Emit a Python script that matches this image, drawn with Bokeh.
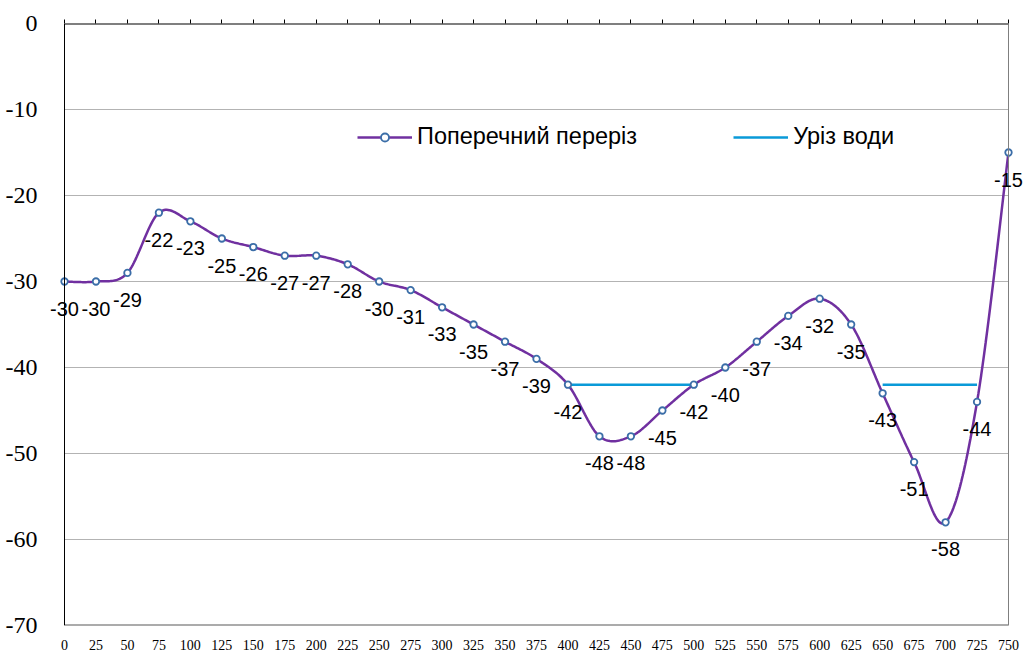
import numpy as np
from bokeh.plotting import figure
from bokeh.models import (ColumnDataSource, FixedTicker, LinearAxis, Legend, LegendItem,
                          Label, Range1d, Span)
from bokeh.embed import file_html
from bokeh.resources import INLINE

# ---- data ----
distance = [0, 25, 50, 75, 100, 125, 150, 175, 200, 225, 250, 275, 300, 325, 350, 375,
            400, 425, 450, 475, 500, 525, 550, 575, 600, 625, 650, 675, 700, 725, 750]
depth = [-30, -30, -29, -22, -23, -25, -26, -27, -27, -28, -30, -31, -33, -35, -37, -39,
         -42, -48, -48, -45, -42, -40, -37, -34, -32, -35, -43, -51, -58, -44, -15]
nan = float("nan")
water = [nan] * 16 + [-42] * 5 + [nan] * 5 + [-42] * 4 + [nan]
y_ticks = [0, -10, -20, -30, -40, -50, -60, -70]
series_names = ["Поперечний переріз", "Уріз води"]

# ---- smoothed curve (Catmull-Rom / Excel-like smoothing) ----
def smooth(xs, ys, n=24):
    xs = np.asarray(xs, float); ys = np.asarray(ys, float)
    px = np.concatenate([[xs[0]], xs, [xs[-1]]])
    py = np.concatenate([[ys[0]], ys, [ys[-1]]])
    out_x, out_y = [], []
    t = np.linspace(0, 1, n, endpoint=False)
    for i in range(1, len(px) - 2):
        p0x, p1x, p2x, p3x = px[i-1], px[i], px[i+1], px[i+2]
        p0y, p1y, p2y, p3y = py[i-1], py[i], py[i+1], py[i+2]
        c1x = p1x + (p2x - p0x) / 6; c1y = p1y + (p2y - p0y) / 6
        c2x = p2x - (p3x - p1x) / 6; c2y = p2y - (p3y - p1y) / 6
        b0 = (1 - t) ** 3; b1 = 3 * (1 - t) ** 2 * t; b2 = 3 * (1 - t) * t ** 2; b3 = t ** 3
        out_x.extend(b0 * p1x + b1 * c1x + b2 * c2x + b3 * p2x)
        out_y.extend(b0 * p1y + b1 * c1y + b2 * c2y + b3 * p2y)
    out_x.append(xs[-1]); out_y.append(ys[-1])
    return out_x, out_y

sx, sy = smooth(distance, depth)

# plot-area geometry: data area is 944 px wide; frame padded so edge labels are not clipped
data_px = 944
pad_l, pad_r = 20, 16
k = data_px / (distance[-1] - distance[0])
x_start = distance[0] - pad_l / k
x_end = distance[-1] + pad_r / k

p = figure(frame_width=data_px + pad_l + pad_r, frame_height=602, width=1026, height=657,
           x_range=Range1d(x_start, x_end), y_range=Range1d(y_ticks[-1], y_ticks[0]),
           output_backend="svg", toolbar_location=None,
           min_border_left=44, min_border_right=2, min_border_top=23, min_border_bottom=32,
           x_axis_location="below")
p.background_fill_color = "white"
p.border_fill_color = "white"
p.outline_line_color = None

# axes
xa = p.xaxis[0]
xa.ticker = FixedTicker(ticks=distance)
xa.major_label_overrides = {v: str(v) for v in distance}
xa.axis_line_color = None
xa.major_tick_line_color = None
xa.minor_tick_line_color = None
xa.major_label_text_font = "Liberation Serif"
xa.major_label_text_font_size = "14px"
xa.major_label_text_color = "black"
xa.major_label_standoff = 8

ya = p.yaxis[0]
ya.ticker = FixedTicker(ticks=y_ticks)
ya.major_label_overrides = {v: str(v) for v in y_ticks}
ya.axis_line_color = None
ya.major_tick_line_color = None
ya.minor_tick_line_color = None
ya.major_label_text_font = "Liberation Serif"
ya.major_label_text_font_size = "24px"
ya.major_label_text_color = "black"
ya.major_label_standoff = 1

top = LinearAxis(ticker=FixedTicker(ticks=distance))
top.axis_line_color = None
top.major_tick_line_color = "black"
top.major_tick_out = 4
top.major_tick_in = 0
top.minor_tick_line_color = None
top.major_label_text_font_size = "1px"
top.major_label_text_alpha = 0
top.major_label_standoff = 0
p.add_layout(top, "above")

p.xgrid.grid_line_color = None
p.ygrid.grid_line_color = None

# gridlines and plot-area borders limited to the data extent
grid_y = y_ticks[1:-1]
p.segment(x0=[distance[0]] * len(grid_y), y0=grid_y, x1=[distance[-1]] * len(grid_y), y1=grid_y,
          line_color="#b3b3b3", line_width=1)
p.segment(x0=[distance[0]], y0=[y_ticks[-1]], x1=[distance[-1]], y1=[y_ticks[-1]],
          line_color="#595959", line_width=2)
p.segment(x0=[distance[0]], y0=[y_ticks[0]], x1=[distance[-1]], y1=[y_ticks[0]],
          line_color="black", line_width=2)
p.add_layout(Span(location=distance[-1], dimension="height", line_color="#7f7f7f", line_width=1))
p.add_layout(Span(location=distance[0], dimension="height", line_color="black", line_width=1))

# glyphs
src = ColumnDataSource(dict(x=distance, y=depth, w=water))
curve = p.line(sx, sy, line_color="#7030A0", line_width=2.5)
wline = p.line("x", "w", source=src, line_color="#0a9ad8", line_width=2.5)
marks = p.scatter("x", "y", source=src, marker="circle", size=6.5, fill_color="white",
                  line_color="#3b6ea8", line_width=1.8)

for xv, yv in zip(distance, depth):
    p.add_layout(Label(x=xv, y=yv, text=str(yv), x_offset=0, y_offset=-27,
                       text_align="center", text_baseline="middle",
                       text_font="Liberation Sans", text_font_size="20px",
                       text_color="black"))

legend = Legend(items=[LegendItem(label=series_names[0], renderers=[curve, marks]),
                       LegendItem(label=series_names[1], renderers=[wline])],
                orientation="horizontal", location=(313, 475),
                glyph_width=55, glyph_height=20, label_standoff=5, spacing=96,
                padding=5, margin=0,
                label_text_font="Liberation Sans", label_text_font_size="23.5px",
                label_text_color="black",
                background_fill_color="white", background_fill_alpha=1.0,
                border_line_color=None)
p.add_layout(legend, "center")

open("out.html", "w").write(file_html(p, INLINE))
